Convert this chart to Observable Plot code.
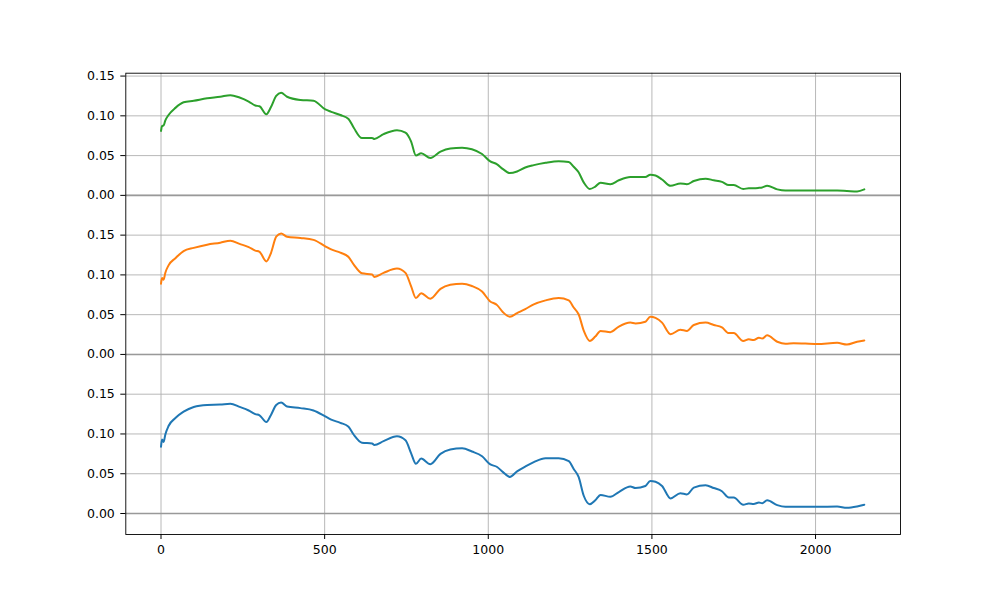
<!DOCTYPE html>
<html>
<head>
<meta charset="utf-8">
<script src="https://cdn.jsdelivr.net/npm/d3@7"></script>
<script src="https://cdn.jsdelivr.net/npm/@observablehq/plot@0.6"></script>
<style>
  html, body { margin: 0; padding: 0; background: white; }
  svg { display: block; }
</style>
</head>
<body>
<div id="chart"></div>
<script>
const xs = [
  0, 3, 8, 13, 23, 44, 69, 100, 141, 181,
  212, 240, 268, 288, 301, 322, 336, 352, 367, 385,
  426, 466, 502, 520, 548, 573, 589, 614, 645, 652,
  680, 721, 747, 764, 779, 795, 823, 854, 884, 920,
  950, 981, 1005, 1027, 1045, 1066, 1088, 1113, 1139, 1175,
  1215, 1246, 1261, 1276, 1292, 1310, 1327, 1343, 1373, 1399,
  1434, 1450, 1480, 1495, 1511, 1531, 1557, 1587, 1607, 1628,
  1664, 1689, 1714, 1735, 1750, 1779, 1796, 1811, 1827, 1837,
  1852, 1883, 1908, 1933, 2005, 2066, 2096, 2127, 2149
];

const blueValues = [
  0.084, 0.093, 0.090, 0.099, 0.110, 0.120, 0.128, 0.134, 0.1365, 0.137,
  0.138, 0.134, 0.1295, 0.125, 0.1235, 0.115, 0.124, 0.1365, 0.1395, 0.1345,
  0.1325, 0.1295, 0.122, 0.118, 0.114, 0.109, 0.099, 0.089, 0.088, 0.086,
  0.091, 0.097, 0.092, 0.076, 0.0625, 0.069, 0.062, 0.075, 0.0805, 0.082,
  0.078, 0.072, 0.062, 0.0585, 0.052, 0.046, 0.053, 0.059, 0.0645, 0.0695,
  0.0695, 0.066, 0.056, 0.046, 0.022, 0.0117, 0.0167, 0.0234, 0.021, 0.027,
  0.034, 0.032, 0.0346, 0.041, 0.040, 0.0346, 0.019, 0.0255, 0.024, 0.0325,
  0.0355, 0.032, 0.028, 0.020, 0.020, 0.011, 0.0125, 0.012, 0.0137, 0.013,
  0.0167, 0.0105, 0.0084, 0.0084, 0.0084, 0.0088, 0.0071, 0.0088, 0.011
];

const orangeValues = [
  0.089, 0.096, 0.094, 0.1025, 0.112, 0.121, 0.130, 0.134, 0.138, 0.1405,
  0.143, 0.139, 0.135, 0.1305, 0.129, 0.117, 0.1275, 0.148, 0.152, 0.148,
  0.1465, 0.144, 0.136, 0.132, 0.128, 0.1225, 0.113, 0.102, 0.1005, 0.0975,
  0.1025, 0.108, 0.1025, 0.086, 0.071, 0.077, 0.070, 0.0825, 0.0875, 0.089,
  0.086, 0.079, 0.067, 0.062, 0.053, 0.0475, 0.052, 0.057, 0.063, 0.068,
  0.071, 0.068, 0.059, 0.0505, 0.0296, 0.017, 0.0225, 0.0296, 0.028, 0.035,
  0.040, 0.039, 0.041, 0.0475, 0.046, 0.040, 0.0255, 0.031, 0.0296, 0.037,
  0.040, 0.037, 0.034, 0.0268, 0.0268, 0.017, 0.019, 0.018, 0.021, 0.020,
  0.024, 0.016, 0.0134, 0.0142, 0.013, 0.0146, 0.0125, 0.016, 0.0175
];

const greenValues = [
  0.081, 0.087, 0.088, 0.094, 0.101, 0.110, 0.117, 0.119, 0.122, 0.124,
  0.126, 0.123, 0.118, 0.113, 0.112, 0.102, 0.111, 0.125, 0.129, 0.124,
  0.120, 0.119, 0.108, 0.105, 0.101, 0.096, 0.085, 0.072, 0.072, 0.071,
  0.077, 0.082, 0.079, 0.068, 0.050, 0.053, 0.047, 0.055, 0.059, 0.060,
  0.058, 0.052, 0.043, 0.039, 0.033, 0.028, 0.030, 0.035, 0.038, 0.041,
  0.043, 0.042, 0.036, 0.029, 0.016, 0.008, 0.011, 0.016, 0.014, 0.019,
  0.023, 0.023, 0.023, 0.026, 0.025, 0.020, 0.012, 0.015, 0.014, 0.018,
  0.021, 0.019, 0.017, 0.013, 0.013, 0.008, 0.009, 0.009, 0.0095, 0.010,
  0.012, 0.0075, 0.006, 0.006, 0.006, 0.006, 0.0055, 0.005, 0.0075
];

const seriesNames = ["s0", "s1", "s2"];
const seriesColors = ["#1f77b4", "#ff7f0e", "#2ca02c"];
const seriesOffsets = [0, 0.2, 0.4];
const seriesValues = [blueValues, orangeValues, greenValues];

const xTicks = [0, 500, 1000, 1500, 2000];
const xTickLabels = ["0", "500", "1000", "1500", "2000"];
const yBaseTicks = [0, 0.05, 0.10, 0.15];
const yTickLabels = ["0.00", "0.05", "0.10", "0.15"];

const yTicks = seriesOffsets.flatMap(o => yBaseTicks.map(t => +(o + t).toFixed(4)));
const yLabelFor = d => {
  const k = Math.round(d * 100) % 20;
  return yTickLabels[yBaseTicks.findIndex(t => Math.round(t * 100) === k)];
};
const xLabelFor = d => xTickLabels[xTicks.indexOf(d)];

const rows = seriesNames.flatMap((name, i) =>
  xs.map((x, j) => ({ x, y: seriesValues[i][j] + seriesOffsets[i], s: name }))
);

const chart = Plot.plot({
  width: 1000,
  height: 600,
  marginLeft: 125.3,
  marginRight: 100,
  marginTop: 72.7,
  marginBottom: 66,
  style: { fontFamily: "DejaVu Sans", fontSize: "12.5px", background: "white", color: "black" },
  x: { domain: [-107.6, 2259.6] },
  y: { domain: [-0.0264, 0.5536] },
  color: { domain: seriesNames, range: seriesColors },
  marks: [
    Plot.gridX(xTicks, { stroke: "#b0b0b0", strokeOpacity: 1, strokeWidth: 0.9 }),
    Plot.gridY(yTicks, { stroke: "#b0b0b0", strokeOpacity: 1, strokeWidth: 0.9 }),
    Plot.ruleY(seriesOffsets, { stroke: "#999999", strokeWidth: 1.6 }),
    Plot.line(rows, { x: "x", y: "y", z: "s", stroke: "s", strokeWidth: 2, curve: "monotone-x" }),
    Plot.frame({ stroke: "black", strokeWidth: 0.9 }),
    Plot.axisX({ ticks: xTicks, tickFormat: xLabelFor, tickSize: 5, tickPadding: 6, label: null, fontSize: 12.5 }),
    Plot.axisY({ ticks: yTicks, tickFormat: yLabelFor, tickSize: 5, tickPadding: 6, label: null, fontSize: 12.5 })
  ]
});

document.getElementById("chart").appendChild(chart);
</script>
</body>
</html>
